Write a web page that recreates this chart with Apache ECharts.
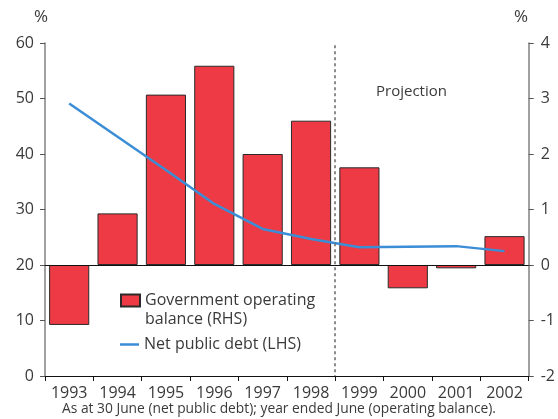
<!DOCTYPE html>
<html>
<head>
<meta charset="utf-8">
<script src="https://cdn.jsdelivr.net/npm/echarts@6/dist/echarts.min.js"></script>
<style>
html,body{margin:0;padding:0;background:#fff;}
#chart{width:558px;height:419px;}
</style>
</head>
<body>
<div id="chart"></div>
<script>
// Data
var years = ['1993','1994','1995','1996','1997','1998','1999','2000','2001','2002'];
var operatingBalance = [-1.08, 0.93, 3.07, 3.59, 2.0, 2.6, 1.76, -0.42, -0.06, 0.52]; // RHS, %
var netPublicDebt = [49.1, 43.1, 37.1, 31.0, 26.5, 24.7, 23.2, 23.3, 23.4, 22.5]; // LHS, %
var leftTicks = {min: 0, max: 60, interval: 10};
var rightTicks = {min: -2, max: 4, interval: 1};
var projectionStart = 6; // category boundary index (start of 1999)
var barName = 'Government operating balance (RHS)';
var lineName = 'Net public debt (LHS)';
var caption = 'As at 30 June (net public debt); year ended June (operating balance).';

var FONT = 'Open Sans';
var TXT = '#3a3a3a';

var chart = echarts.init(document.getElementById('chart'), null, {renderer: 'canvas'});
chart.setOption({
  animation: false,
  backgroundColor: '#ffffff',
  textStyle: {fontFamily: FONT, color: TXT},
  grid: {left: 45, right: 29, top: 43, bottom: 43, containLabel: false},
  legend: [
    {
      data: [barName], orient: 'vertical', left: 120, top: 272, padding: 0,
      itemWidth: 19, itemHeight: 12, icon: 'rect', itemGap: 4,
      formatter: function () { return ' \nGovernment operating\nbalance (RHS)'; },
      textStyle: {fontFamily: FONT, fontSize: 16, color: TXT, lineHeight: 19}
    },
    {
      data: [{name: lineName, icon: 'rect'}], orient: 'vertical', left: 120, top: 335, padding: 0,
      itemWidth: 19, itemHeight: 2.5,
      textStyle: {fontFamily: FONT, fontSize: 16, color: TXT, lineHeight: 19}
    }
  ],
  xAxis: [
    {
      type: 'category', data: years, boundaryGap: true,
      axisLine: {lineStyle: {color: '#111', width: 1.2}},
      axisTick: {show: true, interval: 0, alignWithLabel: false, length: 5, lineStyle: {color: '#111'}},
      axisLabel: {fontFamily: FONT, fontSize: 16, color: TXT, margin: 9, interval: 0},
      splitLine: {show: false}
    },
    {type: 'value', min: 0, max: years.length, show: false}
  ],
  yAxis: [
    {
      type: 'value', position: 'left', min: leftTicks.min, max: leftTicks.max, interval: leftTicks.interval,
      axisLine: {show: true, lineStyle: {color: '#808080', width: 1.5}},
      axisTick: {show: true, length: 5, lineStyle: {color: '#555'}},
      axisLabel: {fontFamily: FONT, fontSize: 16, color: TXT, margin: 11},
      splitLine: {show: false}
    },
    {
      type: 'value', position: 'right', min: rightTicks.min, max: rightTicks.max, interval: rightTicks.interval,
      axisLine: {show: true, lineStyle: {color: '#808080', width: 1.5}},
      axisTick: {show: true, length: 5, lineStyle: {color: '#555'}},
      axisLabel: {fontFamily: FONT, fontSize: 16, color: TXT, margin: 12},
      splitLine: {show: false}
    }
  ],
  graphic: [
    {type: 'text', left: 34, top: 9, style: {text: '%', font: '17px "Open Sans"', fill: TXT}},
    {type: 'text', left: 514, top: 9, style: {text: '%', font: '17px "Open Sans"', fill: TXT}},
    {type: 'text', left: 376, top: 84, style: {text: 'Projection', font: '15px "Open Sans"', fill: TXT}},
    {type: 'text', left: 'center', top: 402, style: {text: caption, font: '13.8px "Open Sans"', fill: TXT}}
  ],
  series: [
    {
      name: barName, type: 'bar', xAxisIndex: 0, yAxisIndex: 1, data: operatingBalance,
      barCategoryGap: '17%',
      itemStyle: {color: '#ee3a44', borderColor: '#2a2a2a', borderWidth: 1},
      markLine: {
        silent: true, symbol: 'none', label: {show: false},
        lineStyle: {color: '#111', width: 1.2, type: 'solid'},
        data: [{yAxis: 0}]
      },
      z: 2
    },
    {
      name: lineName, type: 'line', xAxisIndex: 0, yAxisIndex: 0, data: netPublicDebt,
      symbol: 'none', smooth: false,
      lineStyle: {color: '#3b8dd6', width: 2.5},
      itemStyle: {color: '#3b8dd6'},
      z: 4
    },
    {
      name: 'projection', type: 'line', xAxisIndex: 1, yAxisIndex: 0, data: [],
      markLine: {
        silent: true, symbol: 'none', label: {show: false},
        lineStyle: {color: '#666', width: 1.5, type: [3, 3]},
        data: [[{coord: [projectionStart, 59.6]}, {coord: [projectionStart, 0]}]]
      },
      z: 3
    }
  ]
});
</script>
</body>
</html>
